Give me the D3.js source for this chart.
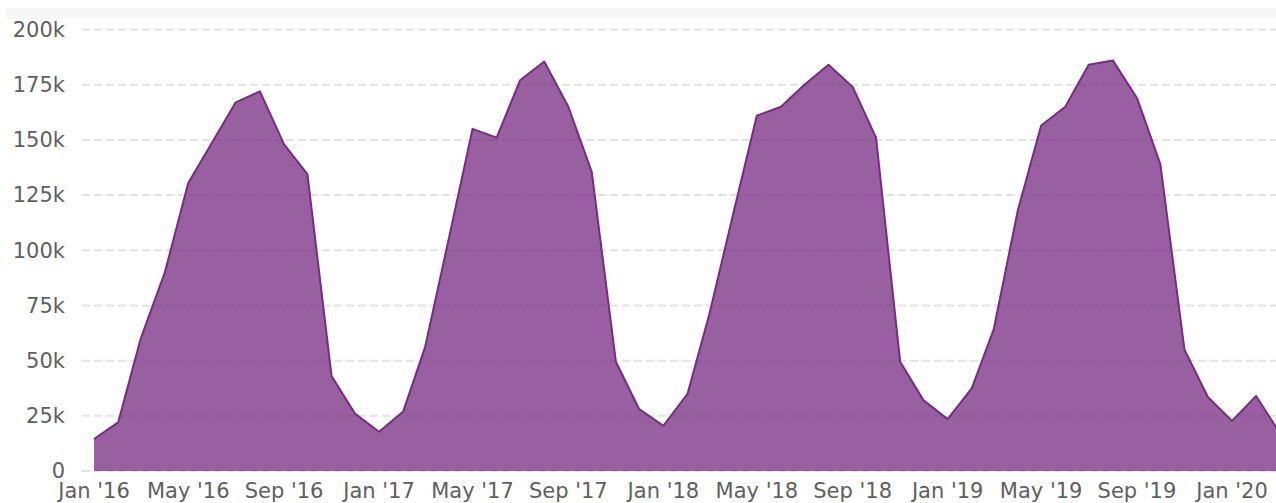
<!DOCTYPE html>
<html>
<head>
<meta charset="utf-8">
<script src="https://cdn.jsdelivr.net/npm/d3@7"></script>
<style>
    html, body { margin: 0; padding: 0; background: #fff; }
    svg { display: block; }
    .tick-label { font-family: "DejaVu Sans", Verdana, sans-serif; font-size: 21px; fill: #606060; }
</style>
</head>
<body>
<div id="chart"></div>
<script>
// monthly values, Jan '16 .. Mar '20
var months = [
    "2016-01", "2016-02", "2016-03", "2016-04", "2016-05", "2016-06", "2016-07", "2016-08", "2016-09", "2016-10", "2016-11", "2016-12",
    "2017-01", "2017-02", "2017-03", "2017-04", "2017-05", "2017-06", "2017-07", "2017-08", "2017-09", "2017-10", "2017-11", "2017-12",
    "2018-01", "2018-02", "2018-03", "2018-04", "2018-05", "2018-06", "2018-07", "2018-08", "2018-09", "2018-10", "2018-11", "2018-12",
    "2019-01", "2019-02", "2019-03", "2019-04", "2019-05", "2019-06", "2019-07", "2019-08", "2019-09", "2019-10", "2019-11", "2019-12",
    "2020-01", "2020-02", "2020-03"
];
var values = [
    14500, 22000, 60000, 90000, 130500, 149000, 167000, 172000, 148000, 134500, 43000, 26000,
    17800, 27000, 56000, 106000, 155000, 151000, 177000, 185500, 165000, 135500, 49500, 28000,
    20500, 35000, 71000, 117000, 161000, 165000, 175000, 184000, 174000, 151000, 49500, 32000,
    23500, 37500, 64000, 118000, 156500, 165000, 184000, 186000, 169000, 139000, 55000, 33500,
    22700, 34000, 18000
];
var yTicks = [0, 25000, 50000, 75000, 100000, 125000, 150000, 175000, 200000];
var xTickMonths = ["2016-01", "2016-05", "2016-09", "2017-01", "2017-05", "2017-09", "2018-01", "2018-05", "2018-09",
    "2019-01", "2019-05", "2019-09", "2020-01"];

var width = 1276,
    height = 503;

var parseMonth = d3.utcParse("%Y-%m");
var data = months.map(function (m, i) { return { date: parseMonth(m), value: values[i] }; });

var x = d3.scaleUtc()
    .domain([parseMonth("2016-01"), parseMonth("2020-01")])
    .range([94, 1232]);

var y = d3.scaleLinear()
    .domain([0, 200000])
    .range([471, 29.5]);

var svg = d3.select('#chart').append('svg')
    .attr('width', width)
    .attr('height', height);

// light band along the top
svg.append('rect')
    .attr('x', 6)
    .attr('y', 8)
    .attr('width', width - 6)
    .attr('height', 11)
    .attr('fill', '#f7f7f7');

// grid
svg.append('g').selectAll('line')
    .data(yTicks).enter()
    .append('line')
    .attr('x1', 82)
    .attr('x2', width)
    .attr('y1', function (d) { return y(d); })
    .attr('y2', function (d) { return y(d); })
    .attr('stroke', '#e2e2e2')
    .attr('stroke-width', 2)
    .attr('stroke-dasharray', '8,4');

// y labels
svg.append('g').selectAll('text')
    .data(yTicks).enter()
    .append('text')
    .attr('class', 'tick-label')
    .attr('x', 65)
    .attr('y', function (d) { return y(d); })
    .attr('dy', '0.35em')
    .attr('text-anchor', 'end')
    .text(function (d) { return d === 0 ? "0" : (d / 1000) + "k"; });

// x labels
var fmt = d3.utcFormat("%b '%y");
svg.append('g').selectAll('text')
    .data(xTickMonths.map(parseMonth)).enter()
    .append('text')
    .attr('class', 'tick-label')
    .attr('x', function (d) { return x(d); })
    .attr('y', 498)
    .attr('text-anchor', 'middle')
    .text(function (d) { return fmt(d); });

var area = d3.area()
    .x(function (d) { return x(d.date); })
    .y0(y(0))
    .y1(function (d) { return y(d.value); });

var line = d3.line()
    .x(function (d) { return x(d.date); })
    .y(function (d) { return y(d.value); });

svg.append('path')
    .datum(data)
    .attr('d', area)
    .attr('fill', '#772b82')
    .attr('fill-opacity', 0.75);

svg.append('path')
    .datum(data)
    .attr('d', line)
    .attr('fill', 'none')
    .attr('stroke', '#772b82')
    .attr('stroke-width', 2)
    .attr('stroke-linejoin', 'round');
</script>
</body>
</html>
